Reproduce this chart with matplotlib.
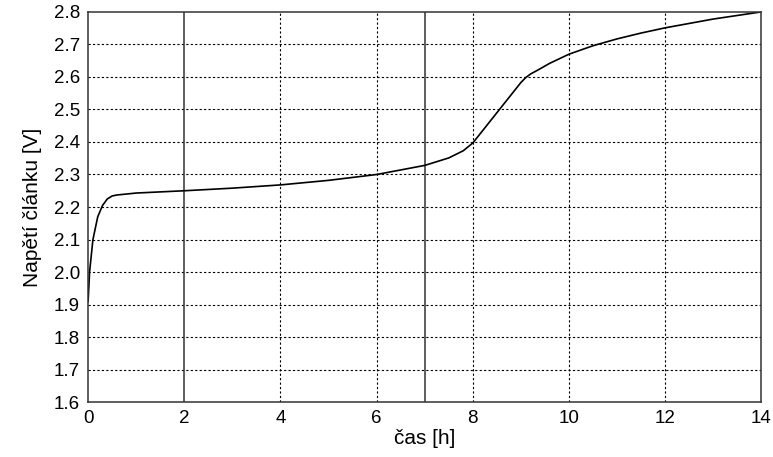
import matplotlib.pyplot as plt

plt.rcParams['font.family'] = ['Liberation Sans', 'DejaVu Sans']

# cas [h] a napeti clanku [V]
cas = [0, 0.03, 0.1, 0.2, 0.3, 0.4, 0.5, 0.6, 0.8, 1, 2, 3, 4, 5, 6, 7,
       7.5, 7.8, 8, 8.5, 9, 9.1, 9.2, 9.35, 9.6, 10, 10.5, 11, 11.5, 12,
       13, 14]
napeti = [1.91, 2.0, 2.1, 2.17, 2.205, 2.225, 2.234, 2.237, 2.240, 2.243,
          2.25, 2.258, 2.268, 2.282, 2.30, 2.328, 2.351, 2.373, 2.397,
          2.49, 2.583, 2.598, 2.609, 2.621, 2.642, 2.670, 2.696, 2.717,
          2.735, 2.751, 2.778, 2.80]

grid_x = [4, 6, 8, 10, 12]
grid_y = [1.7, 1.8, 1.9, 2.0, 2.1, 2.2, 2.3, 2.4, 2.5, 2.6, 2.7]
hranice = [2, 7]

fig, ax = plt.subplots(figsize=(7.73, 4.57), dpi=100)
fig.subplots_adjust(left=0.114, right=0.985, top=0.974, bottom=0.12)

for x in grid_x:
    ax.axvline(x, color='black', lw=0.8, ls=(0, (2, 2)))
for y in grid_y:
    ax.axhline(y, color='black', lw=0.8, ls=(0, (2, 2)))
for x in hranice:
    ax.axvline(x, color='#333333', lw=1.1)

ax.plot(cas, napeti, color='black', lw=1.2)

ax.set_xlim(0, 14)
ax.set_ylim(1.6, 2.8)
ax.set_xticks(range(0, 15, 2))
ax.set_yticks([1.6 + 0.1 * i for i in range(13)])
ax.set_yticklabels(['%.1f' % (1.6 + 0.1 * i) for i in range(13)])
ax.tick_params(length=0, labelsize=13.5, pad=6)
for s in ax.spines.values():
    s.set_color('#333333')
    s.set_linewidth(1.1)

ax.set_xlabel('čas [h]', fontsize=15, labelpad=1)
ax.set_ylabel('Napětí článku [V]', fontsize=15, labelpad=8)

plt.savefig('out.png')
